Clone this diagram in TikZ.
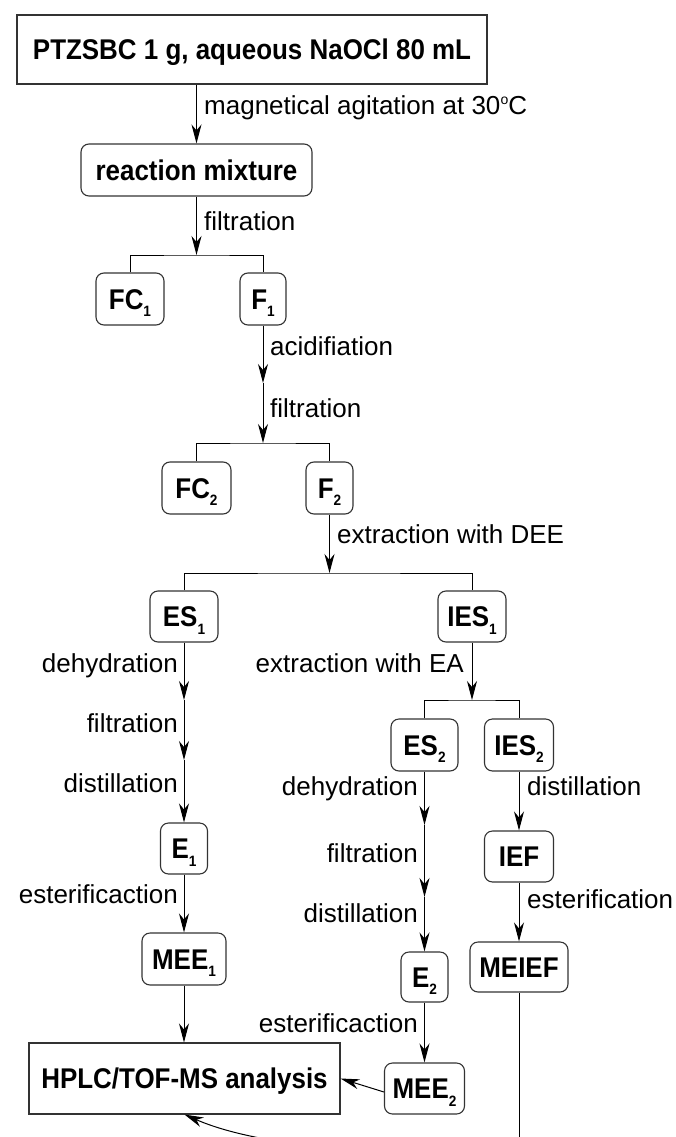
\documentclass[tikz,border=0pt]{standalone}
\usepackage{fontspec}
\setmainfont{Liberation Sans}
\newfontfamily\condfont{Liberation Sans}[FakeStretch=0.91]
\usetikzlibrary{arrows.meta}
\newcommand{\sbs}[1]{\smash{\raisebox{-7.5pt}{\fontsize{15}{15}\selectfont #1}}}
\newcommand{\degsup}{\raisebox{10pt}{\fontsize{14}{14}\selectfont o}}
\begin{document}
\begin{tikzpicture}[x=1pt,y=-1pt,
  box/.style={draw=black!80, line width=1.1pt, inner sep=0pt,
    font=\fontsize{28.5}{30}\selectfont\condfont\bfseries, text height=20.4pt, text depth=0pt,
    minimum height=52pt},
  rbox/.style={box, rounded corners=8pt},
  lbl/.style={inner sep=0pt, font=\fontsize{26}{28}\selectfont},
  arr/.style={-{Stealth[length=19pt,width=10pt,inset=6pt]}, line width=1pt},
  ln/.style={line width=1pt}]
\useasboundingbox (0,0) rectangle (675,1137);

% boxes
\node[box, minimum width=470pt, minimum height=69pt] (top) at (252,49.5) {PTZSBC 1 g, aqueous NaOCl 80 mL};
\node[rbox, minimum width=231pt] (rm) at (196.5,170) {reaction mixture};
\node[rbox, minimum width=68pt] (FC1) at (130,299) {FC\sbs{1}};
\node[rbox, minimum width=46pt] (F1) at (263,299) {F\sbs{1}};
\node[rbox, minimum width=69pt] (FC2) at (196.5,488) {FC\sbs{2}};
\node[rbox, minimum width=47pt] (F2) at (329.5,488) {F\sbs{2}};
\node[rbox, minimum width=68pt, minimum height=51pt] (ES1) at (184,616.5) {ES\sbs{1}};
\node[rbox, minimum width=68pt, minimum height=51pt] (IES1) at (472,616.5) {IES\sbs{1}};
\node[rbox, minimum width=67pt] (ES2) at (424.5,745) {ES\sbs{2}};
\node[rbox, minimum width=69pt] (IES2) at (519,745) {IES\sbs{2}};
\node[rbox, minimum width=47pt, minimum height=51pt] (E1) at (184,848.5) {E\sbs{1}};
\node[rbox, minimum width=84pt] (MEE1) at (184,959) {MEE\sbs{1}};
\node[rbox, minimum width=69pt, minimum height=51pt] (IEF) at (519,856.5) {IEF};
\node[rbox, minimum width=47pt, minimum height=50pt] (E2) at (424.5,977) {E\sbs{2}};
\node[rbox, minimum width=98pt, minimum height=50pt] (MEIEF) at (519,967) {MEIEF};
\node[rbox, minimum width=80pt, minimum height=51pt] (MEE2) at (424.5,1088.5) {MEE\sbs{2}};
\node[box, minimum width=311pt, minimum height=71pt] (HPLC) at (184.5,1078.5) {HPLC/TOF-MS analysis};

% junctions
\coordinate (b1) at (196.5,255);
\coordinate (c1) at (263,383);
\coordinate (b2) at (263,443);
\coordinate (b3) at (329.5,573);
\coordinate (c2) at (184,700);
\coordinate (c3) at (184,760);
\coordinate (b4) at (472,700);
\coordinate (c4) at (424.5,825);
\coordinate (c5) at (424.5,897);
\coordinate (endp) at (519,1155);

% connectors
\draw[arr] (top.south -| rm.north) -- (rm.north);
\draw[arr] (rm.south) -- (b1);
\draw[ln] (FC1.north) |- (b1) -| (F1.north);
\draw[arr] (F1.south) -- (c1);
\draw[arr] (c1) -- (b2);
\draw[ln] (FC2.north) |- (b2) -| (F2.north);
\draw[arr] (F2.south) -- (b3);
\draw[ln] (ES1.north) |- (b3) -| (IES1.north);
\draw[arr] (ES1.south) -- (c2);
\draw[arr] (c2) -- (c3);
\draw[arr] (c3) -- (E1.north);
\draw[arr] (E1.south) -- (MEE1.north);
\draw[arr] (MEE1.south) -- (MEE1.south |- HPLC.north);
\draw[arr] (IES1.south) -- (b4);
\draw[ln] (ES2.north) |- (b4) -| (IES2.north);
\draw[arr] (ES2.south) -- (c4);
\draw[arr] (c4) -- (c5);
\draw[arr] (c5) -- (E2.north);
\draw[arr] (E2.south) -- (MEE2.north);
\draw[arr] ([yshift=-3.5pt]MEE2.west) -- (HPLC.east);
\draw[arr] (IES2.south) -- (IEF.north);
\draw[arr] (IEF.south) -- (MEIEF.north);
\begin{scope}
\clip (0,0) rectangle (675,1137);
\draw[ln] (MEIEF.south) -- (endp);
\draw[arr] (endp) .. controls (350,1155) and (250,1143) .. (HPLC.south);
\end{scope}

% labels
\node[lbl, anchor=base west] (t1) at (204,115) {magnetical agitation at 30\degsup C};
\node[lbl, anchor=base west] (t2) at (204,230) {filtration};
\node[lbl, anchor=base west] (t3) at (270,355) {acidifiation};
\node[lbl, anchor=base west] (t4) at (270,417) {filtration};
\node[lbl, anchor=base west] (t5) at (337,543) {extraction with DEE};
\node[lbl, anchor=base east] (t6) at (178,672) {dehydration};
\node[lbl, anchor=base east] (t7) at (178,732) {filtration};
\node[lbl, anchor=base east] (t8) at (178,792) {distillation};
\node[lbl, anchor=base east] (t9) at (178,903) {esterificaction};
\node[lbl, anchor=base east] (t10) at (464,672) {extraction with EA};
\node[lbl, anchor=base east] (t11) at (418,795) {dehydration};
\node[lbl, anchor=base east] (t12) at (418,862) {filtration};
\node[lbl, anchor=base east] (t13) at (418,922) {distillation};
\node[lbl, anchor=base east] (t14) at (418,1032) {esterificaction};
\node[lbl, anchor=base west] (t15) at (527,795) {distillation};
\node[lbl, anchor=base west] (t16) at (527,908) {esterification};
\end{tikzpicture}
\end{document}
